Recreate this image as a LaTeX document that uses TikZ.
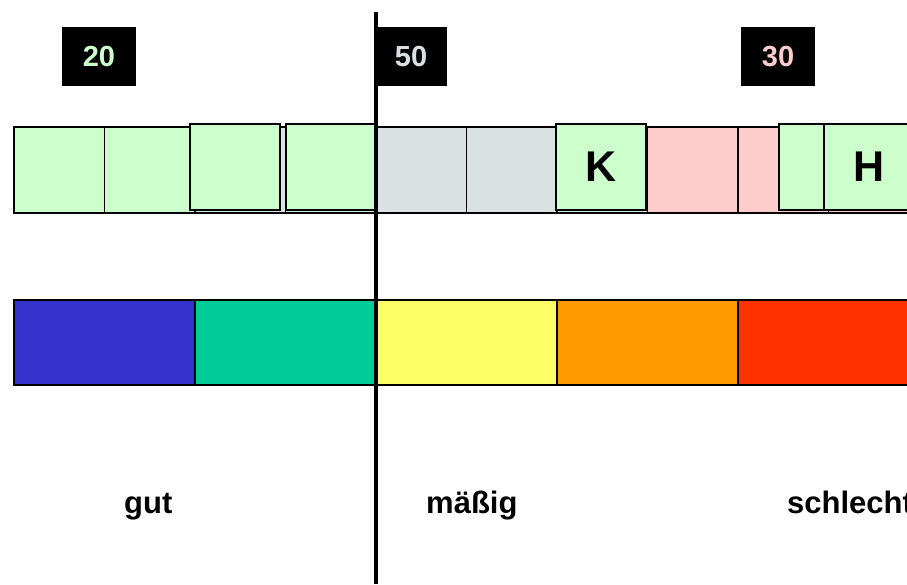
\documentclass[tikz,border=0pt]{standalone}
\usepackage{fontspec}
\setmainfont{Liberation Sans}
\definecolor{lgreen}{HTML}{CCFFCC}
\definecolor{lgray}{HTML}{DAE1E3}
\definecolor{lpink}{HTML}{FFCCCC}
\definecolor{cblue}{HTML}{3333CC}
\definecolor{cgreen}{HTML}{00CC99}
\definecolor{cyellow}{HTML}{FFFF66}
\definecolor{corange}{HTML}{FF9900}
\definecolor{cred}{HTML}{FF3300}
\begin{document}
\begin{tikzpicture}
		[x=1pt,y=-1pt,
		cell/.style={rectangle,draw=black,line width=1.6pt,
inner sep=0pt,minimum width=90.5pt,minimum height=86pt},
		moved/.style={rectangle,draw=black,line width=1.8pt,fill=lgreen,
inner sep=0pt,minimum width=90pt,minimum height=86pt,font=\bfseries\fontsize{43}{43}\selectfont},
		band/.style={rectangle,draw=black,line width=1.8pt,
inner sep=0pt,minimum width=181pt,minimum height=85pt},
		countbox/.style={rectangle,fill=black,inner sep=0pt,minimum height=59pt,
font=\bfseries\fontsize{29}{29}\selectfont},
		textstyle/.style={anchor=base west,inner sep=0pt,font=\bfseries\fontsize{31}{31}\selectfont}]
		\clip (0,0) rectangle (907,584);
		% base row
		\node at (59.25, 170) (b1) [cell,fill=lgreen] {};
		\node at (149.75, 170) (b2) [cell,fill=lgreen] {};
		\node at (240.25, 170) (b3) [cell,fill=lgray] {};
		\node at (330.75, 170) (b4) [cell,fill=lgray] {};
		\node at (421.25, 170) (b5) [cell,fill=lgray] {};
		\node at (511.75, 170) (b6) [cell,fill=lgray] {};
		\node at (602.25, 170) (b7) [cell,fill=lgray] {};
		\node at (692.75, 170) (b8) [cell,fill=lpink] {};
		\node at (783.25, 170) (b9) [cell,fill=lpink] {};
		\node at (873.75, 170) (b10) [cell,fill=lpink] {};
		% moved cells
		\node at (235, 167) (m1) [moved] {};
		\node at (331, 167) (m2) [moved] {};
		\node at (601, 167) (k) [moved] {K};
		\node at (824, 167) (m3) [moved] {};
		\node at (869, 167) (h) [moved] {H};
		% colour scale
		\node at (104.5, 342.5) (s1) [band,fill=cblue] {};
		\node at (285.5, 342.5) (s2) [band,fill=cgreen] {};
		\node at (466.5, 342.5) (s3) [band,fill=cyellow] {};
		\node at (647.5, 342.5) (s4) [band,fill=corange] {};
		\node at (828.5, 342.5) (s5) [band,fill=cred] {};
		% counts
		\node at (99, 56.5) (n1) [countbox,minimum width=74pt,text=lgreen] {20};
		\node at (411, 56.5) (n2) [countbox,minimum width=72pt,text=lgray] {50};
		\node at (778, 56.5) (n3) [countbox,minimum width=74pt,text=lpink] {30};
		% labels
		\node at (124, 513) (l1) [textstyle] {gut};
		\node at (426, 513) (l2) [textstyle] {mäßig};
		\node at (787, 513) (l3) [textstyle] {schlecht};
		% divider
		\coordinate (top) at (376, 12);
		\coordinate (bottom) at (376, 584);
		\draw[line width=4pt] (top) -- (bottom);
		\useasboundingbox (0,0) rectangle (907,584);
	\end{tikzpicture}
\end{document}
